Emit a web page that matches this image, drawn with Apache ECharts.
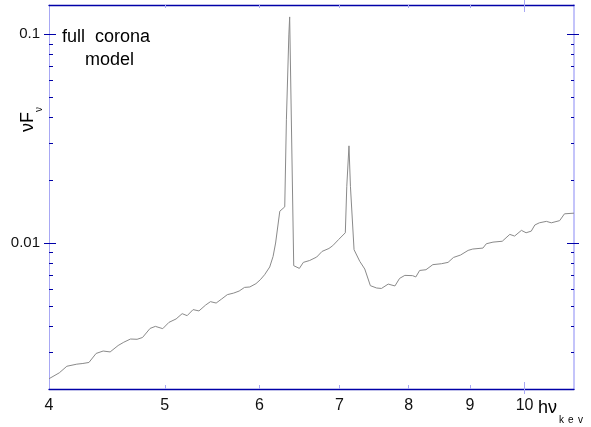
<!DOCTYPE html>
<html><head><meta charset="utf-8">
<script src="https://cdn.jsdelivr.net/npm/echarts@6/dist/echarts.min.js"></script>
<style>html,body{margin:0;padding:0;background:#fff}#c{width:591px;height:427px}</style>
</head><body><div id="c"></div>
<script>
// ---- data ----
const energyKeV = [4.00,4.08,4.14,4.22,4.27,4.32,4.38,4.44,4.50,4.57,4.62,4.68,4.74,4.79,4.86,4.91,4.98,5.04,5.11,5.17,5.22,5.28,5.34,5.41,5.46,5.52,5.58,5.64,5.71,5.77,5.83,5.89,5.96,6.01,6.06,6.12,6.16,6.19,6.24,6.30,6.32,6.35,6.36,6.41,6.48,6.53,6.61,6.70,6.77,6.86,6.91,6.99,7.08,7.10,7.13,7.15,7.20,7.28,7.35,7.43,7.52,7.59,7.69,7.79,7.86,7.94,8.06,8.11,8.17,8.27,8.38,8.52,8.63,8.72,8.84,8.97,9.05,9.23,9.29,9.41,9.58,9.72,9.81,9.94,10.03,10.13,10.20,10.29,10.43,10.53,10.70,10.80,11.00];
const nuFnu = [0.00224,0.00239,0.00257,0.00263,0.00265,0.00268,0.00296,0.00304,0.00301,0.00323,0.00335,0.00347,0.00346,0.00353,0.00390,0.00399,0.00389,0.00417,0.00433,0.00459,0.00449,0.00480,0.00473,0.00505,0.00524,0.00516,0.00540,0.00566,0.00576,0.00589,0.00613,0.00616,0.00639,0.00667,0.00705,0.00768,0.00863,0.0100,0.0142,0.0149,0.0389,0.0992,0.121,0.00779,0.00756,0.00808,0.00825,0.00857,0.00912,0.00942,0.00971,0.0104,0.0112,0.0187,0.0292,0.0187,0.00929,0.00817,0.00751,0.00625,0.00609,0.00606,0.00636,0.00623,0.00677,0.00700,0.00698,0.00688,0.00739,0.00745,0.00788,0.00796,0.00808,0.00853,0.00876,0.00922,0.00936,0.00946,0.00992,0.0101,0.0102,0.0110,0.0108,0.0115,0.0112,0.0114,0.0122,0.0125,0.0127,0.0125,0.0128,0.0138,0.0139];
const xTickLabels = [4,5,6,7,8,9,10];
const xMinorTicks = [5,6,7,8,9];
const xMajorTicks = [10];
const yTickLabels = [0.01,0.1];
const yMajorTicks = [0.01,0.1];
const yMinorTicks = [0.002,0.003,0.004,0.005,0.006,0.007,0.008,0.009,0.02,0.03,0.04,0.05,0.06,0.07,0.08,0.09];
const xRange = [4, 11];
const yRange = [0.002, 0.138];

// ---- styling ----
const DARK = '#0000a8', LIGHT = '#a8a8f4', CURVE = '#8a8a8a';
const FONT = '"Liberation Sans", Arial, sans-serif';

function baseAxis(dim, extra) {
  const r = dim === 'x' ? xRange : yRange;
  const a = {
    type: 'log', logBase: 10, min: r[0], max: r[1], gridIndex: 0,
    axisLine: { show: false, onZero: false },
    axisTick: { show: false },
    axisLabel: { show: false },
    splitLine: { show: false },
    minorTick: { show: false }, minorSplitLine: { show: false }
  };
  return Object.assign(a, extra);
}
function tickAxis(dim, pos, values, inside, len, color) {
  return baseAxis(dim, {
    position: pos,
    axisTick: { show: true, customValues: values, inside: inside, length: len,
                lineStyle: { color: color, width: 1 } }
  });
}

const xAxes = [
  baseAxis('x', {
    position: 'bottom',
    axisLine: { show: true, onZero: false, lineStyle: { color: DARK, width: 1.3 } },
    axisTick: { show: true, customValues: xMinorTicks, inside: true, length: 4, lineStyle: { color: LIGHT } },
    axisLabel: { show: true, customValues: xTickLabels, margin: 9, color: '#111',
                 fontFamily: FONT, fontSize: 16, formatter: v => String(Math.round(v)) }
  }),
  tickAxis('x', 'bottom', xMajorTicks, true, 7, LIGHT),
  tickAxis('x', 'bottom', xMajorTicks, false, 5, LIGHT),
  baseAxis('x', {
    position: 'top',
    axisLine: { show: true, onZero: false, lineStyle: { color: DARK, width: 1.3 } },
    axisTick: { show: true, customValues: xMinorTicks, inside: true, length: 3, lineStyle: { color: LIGHT } }
  }),
  tickAxis('x', 'top', xMajorTicks, true, 7, LIGHT),
  tickAxis('x', 'top', xMajorTicks, false, 5, LIGHT)
];

const yAxes = [
  baseAxis('y', {
    position: 'left',
    axisLine: { show: true, onZero: false, lineStyle: { color: LIGHT, width: 1 } },
    axisTick: { show: true, customValues: yMinorTicks, inside: true, length: 4, lineStyle: { color: DARK } },
    axisLabel: { show: true, customValues: yTickLabels, margin: 9, color: '#111',
                 fontFamily: FONT, fontSize: 15, formatter: v => (v >= 0.05 ? '0.1' : '0.01') }
  }),
  tickAxis('y', 'left', yMajorTicks, true, 7, DARK),
  tickAxis('y', 'left', yMajorTicks, false, 5, DARK),
  baseAxis('y', {
    position: 'right',
    axisLine: { show: true, onZero: false, lineStyle: { color: '#c4c4fa', width: 2 } },
    axisTick: { show: true, customValues: yMinorTicks, inside: true, length: 3, lineStyle: { color: DARK } }
  }),
  tickAxis('y', 'right', yMajorTicks, true, 7, DARK),
  tickAxis('y', 'right', yMajorTicks, false, 5, DARK)
];

const seriesData = energyKeV.map((e, i) => [e, nuFnu[i]]);

const chart = echarts.init(document.getElementById('c'), null, { renderer: 'canvas' });
chart.setOption({
  animation: false,
  backgroundColor: '#fff',
  grid: { left: 49, right: 17, top: 5, bottom: 38, containLabel: false },
  xAxis: xAxes,
  yAxis: yAxes,
  series: [{
    type: 'line', xAxisIndex: 0, yAxisIndex: 0, data: seriesData,
    showSymbol: false, symbol: 'none', smooth: false,
    lineStyle: { color: CURVE, width: 1 }
  }],
  graphic: [
    { type: 'text', x: 62, y: 28, style: { text: 'full  corona', font: '18px ' + FONT, fill: '#000', align: 'left', verticalAlign: 'top' } },
    { type: 'text', x: 85, y: 51, style: { text: 'model', font: '18px ' + FONT, fill: '#000', align: 'left', verticalAlign: 'top' } },
    { type: 'text', x: 538, y: 399, style: { text: 'h\u03bd', font: '18px ' + FONT, fill: '#000', align: 'left', verticalAlign: 'top' } },
    { type: 'text', x: 559, y: 415, style: { text: 'k', font: '10px ' + FONT, fill: '#000', align: 'left', verticalAlign: 'top' } },
    { type: 'text', x: 568, y: 415, style: { text: 'e', font: '10px ' + FONT, fill: '#000', align: 'left', verticalAlign: 'top' } },
    { type: 'text', x: 578, y: 415, style: { text: 'v', font: '10px ' + FONT, fill: '#000', align: 'left', verticalAlign: 'top' } },
    { type: 'text', x: 37, y: 132, rotation: Math.PI / 2, style: { text: '\u03bdF', font: '18px ' + FONT, fill: '#000', align: 'left', verticalAlign: 'bottom' } },
    { type: 'text', x: 44, y: 112, rotation: Math.PI / 2, style: { text: '\u03bd', font: '10px ' + FONT, fill: '#000', align: 'left', verticalAlign: 'bottom' } }
  ]
});
</script>
</body></html>
